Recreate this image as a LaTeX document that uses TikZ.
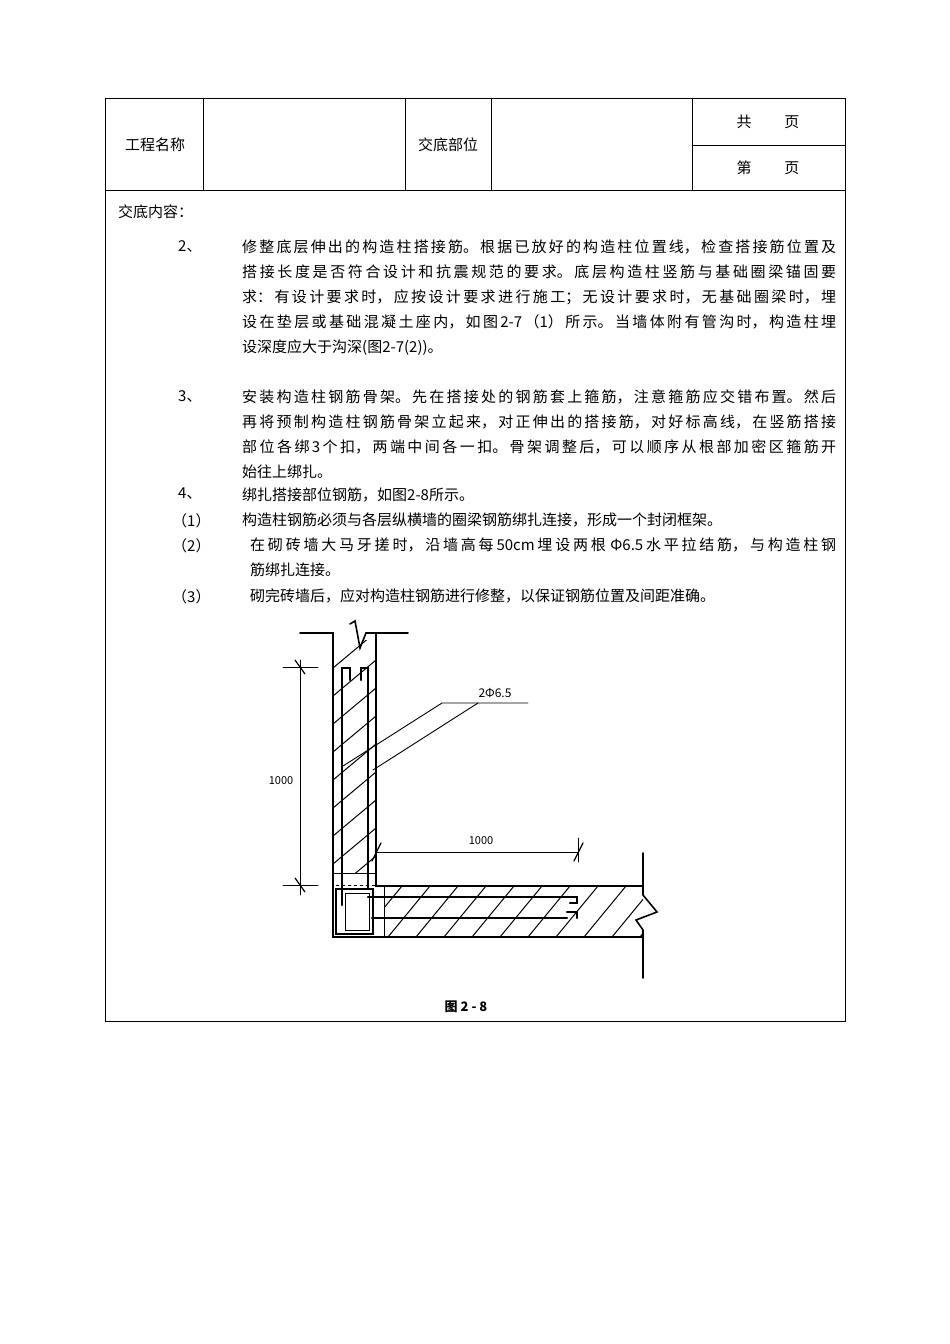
\documentclass[tikz,border=0pt]{standalone}
\usepackage{fontspec}
\setmainfont{Noto Sans CJK SC}
\XeTeXlinebreaklocale "zh"
\XeTeXlinebreakskip=0pt plus 4pt
\usetikzlibrary{positioning}
\tikzstyle{cell} = [font=\fontsize{15}{18}\selectfont]
\tikzstyle{para} = [anchor=north west, inner sep=0pt, text width=594pt,
    align=justify, font=\fontsize{15}{25}\selectfont]
\tikzstyle{num} = [anchor=north west, inner sep=0pt, font=\fontsize{15}{25}\selectfont]
\tikzstyle{wall} = [line width=1.6pt]
\tikzstyle{bar} = [line width=2.2pt]
\tikzstyle{hatch} = [line width=1pt]
\tikzstyle{dim} = [line width=0.9pt]
\tikzstyle{tick} = [line width=1.2pt]
\begin{document}
\begin{tikzpicture}[x=1pt, y=-1pt, line cap=round]
	\useasboundingbox (0,0) rectangle (950,1344);
	% table frame
	\draw[line width=1pt] (105,98) rectangle (845,1021);
	\draw[thin] (105,190) -- (845,190);
	\foreach \cx in {203,405,491,692} \draw[thin] (\cx,98) -- (\cx,190);
	\draw[thin] (692,145) -- (845,145);
	\node [cell] (Name) at (155,145) {工程名称};
	\node [cell] (Part) at (448,145) {交底部位};
	\node [cell] (Total) at (768,122) {共\hspace{2.2em}页};
	\node [cell] (Page) at (768,168) {第\hspace{2.2em}页};
	% body text
	\node [num] (Content) at (118,205) {交底内容：};
	\node [num] (Num_2) at (178,240) {2、};
	\node [para] (Item_2) at (242,240) {修整底层伸出的构造柱搭接筋。根据已放好的构造柱位置线，检查搭接筋位置及\break
		搭接长度是否符合设计和抗震规范的要求。底层构造柱竖筋与基础圈梁锚固要\break
		求：有设计要求时，应按设计要求进行施工；无设计要求时，无基础圈梁时，埋\break
		设在垫层或基础混凝土座内，如图2-7（1）所示。当墙体附有管沟时，构造柱埋\break
		设深度应大于沟深(图2-7(2))。};
	\node [num] (Num_3) at (178,390) {3、};
	\node [para] (Item_3) at (242,390) {安装构造柱钢筋骨架。先在搭接处的钢筋套上箍筋，注意箍筋应交错布置。然后\break
		再将预制构造柱钢筋骨架立起来，对正伸出的搭接筋，对好标高线，在竖筋搭接\break
		部位各绑3个扣，两端中间各一扣。骨架调整后，可以顺序从根部加密区箍筋开\break
		始往上绑扎。};
	\node [num] (Num_4) at (178,488) {4、};
	\node [num] (Item_4) at (242,488) {绑扎搭接部位钢筋，如图2-8所示。};
	\node [num] (Sub_1) at (172,513) {（1）};
	\node [num] (Text_1) at (242,513) {构造柱钢筋必须与各层纵横墙的圈梁钢筋绑扎连接，形成一个封闭框架。};
	\node [num] (Sub_2) at (172,538) {（2）};
	\node [para, text width=586pt] (Text_2) at (250,538) {在砌砖墙大马牙搓时，沿墙高每50cm埋设两根 Φ6.5水平拉结筋，与构造柱钢\break
		筋绑扎连接。};
	\node [num] (Sub_3) at (172,589) {（3）};
	\node [num] (Text_3) at (250,589) {砌完砖墙后，应对构造柱钢筋进行修整，以保证钢筋位置及间距准确。};
	% hatching
	\begin{scope}
		\clip (333,640) rectangle (376,873);
		\foreach \hy in {640,668,...,920} \draw[hatch] (333,\hy) -- (376,\hy-36);
	\end{scope}
	\begin{scope}
		\clip (384,886) rectangle (643,937);
		\foreach \hx in {360,388,...,680} \draw[hatch] (\hx,937) -- (\hx+42,886);
	\end{scope}
	% walls
	\draw[wall] (300,633) -- (333,633) -- (333,937) -- (643,937);
	\draw[wall] (408,633) -- (376,633) -- (376,886) -- (643,886);
	\draw[wall] (350,624) -- (355,621) -- (360,648) -- (366,633) -- (376,633);
	\draw[thin] (333,873) -- (376,873);
	\draw[thin, dashed] (336,885) -- (376,885);
	\draw[thin] (384,886) -- (384,937);
	\draw[wall] (643,853) -- (643,895) -- (657,912) -- (636,920) -- (643,930) -- (643,978);
	% column reinforcement
	\draw[bar] (336,889) rectangle (373,934);
	\draw[thin] (345,893) rectangle (369,930);
	\draw[bar] (342,905) -- (342,668) -- (350,668) -- (350,680);
	\draw[bar] (368,888) -- (368,668) -- (361,668) -- (361,680);
	% horizontal tie bars
	\draw[bar] (368,897) -- (577,897) -- (577,903) -- (570,903);
	\draw[bar] (372,918) -- (567,918);
	\draw[bar] (567,912) -- (577,912) -- (577,918);
	% dimensions
	\draw[dim] (300,660) -- (300,895);
	\draw[dim] (283,667) -- (318,667);
	\draw[dim] (283,885) -- (318,885);
	\draw[tick] (295,660) -- (305,674);
	\draw[tick] (295,878) -- (305,892);
	\node [font=\fontsize{11}{12}\selectfont] (Dim_v) at (281,781) {1000};
	\draw[dim] (376,852) -- (578,852);
	\draw[tick] (372,861) -- (381,843);
	\draw[tick] (574,861) -- (583,843);
	\draw[dim] (578,838) -- (578,862);
	\node [font=\fontsize{11}{12}\selectfont] (Dim_h) at (481,841) {1000};
	% leader
	\node [font=\fontsize{12}{12}\selectfont, anchor=base] (Bars) at (495,697) {2Φ6.5};
	\coordinate (Lead_a) at (442,703);
	\coordinate (Lead_b) at (478,703);
	\draw[dim] (343,766) -- (Lead_a) -- (528,703);
	\draw[dim] (373,770) -- (Lead_b);
	\node [font=\bfseries\fontsize{13}{13}\selectfont] (Caption) at (466,1007) {图 2 - 8};
\end{tikzpicture}
\end{document}
